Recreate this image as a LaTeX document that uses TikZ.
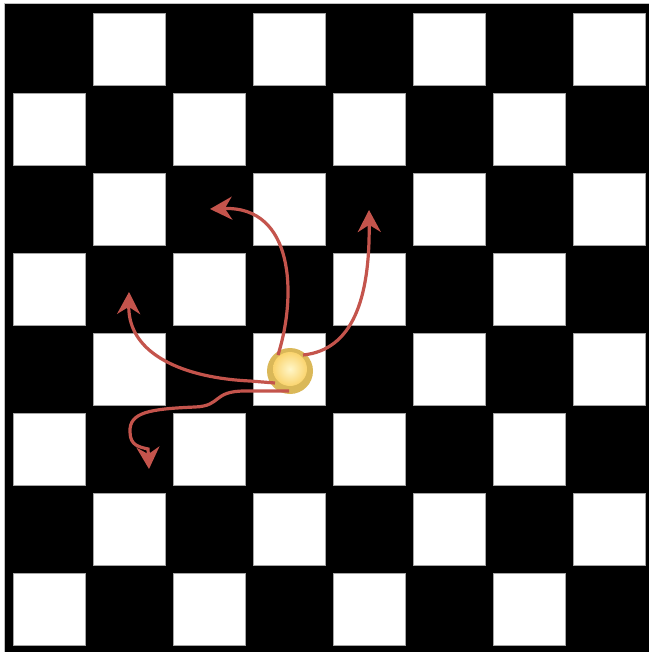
\documentclass[tikz,border=0pt]{standalone}
\usetikzlibrary{arrows.meta}
\definecolor{arrowred}{RGB}{196,84,76}
\definecolor{ringgold}{RGB}{218,184,88}
\definecolor{ballin}{RGB}{255,246,200}
\definecolor{ballout}{RGB}{250,212,110}
\begin{document}
\begin{tikzpicture}[x=1pt,y=-1pt,
  sq/.style={fill=white,draw=gray!70,line width=0.6pt},
  move/.style={draw=arrowred,line width=3.2pt,-{Stealth[length=22pt,width=23pt]}},
  ring/.style={circle,fill=ringgold,minimum size=46pt,inner sep=0pt}]
\useasboundingbox (0,0) rectangle (649,652);
\fill[white] (0,0) rectangle (649,652);
\fill[black] (4,4) rectangle (649,652);
\draw[gray!50,line width=1pt] (4,652) -- (4,4) -- (649,4);
\foreach \i in {0,...,7}{
  \foreach \j in {0,...,7}{
    \pgfmathtruncatemacro{\parity}{mod(\i+\j,2)}
    \ifnum\parity=1
      \draw[sq] ({13+80*\i},{13+80*\j}) rectangle ++(72,72);
    \fi
  }
}
\node[ring] (ball) at (290,371) {};
\shade[inner color=ballin,outer color=ballout] (290,369) circle (17pt);
\coordinate (s1) at (278,355);
\coordinate (s2) at (303,355);
\coordinate (s3) at (275,383);
\coordinate (s4) at (289,391);
\coordinate (e1) at (210,209);
\coordinate (e2) at (369,210);
\coordinate (e3) at (129,292);
\coordinate (e4) at (149,469);
\draw[move] (s1) .. controls (297,295) and (294,206) .. (e1);
\draw[move] (s2) .. controls (352,350) and (370,300) .. (e2);
\draw[move] (s3) -- (250,381) .. controls (185,378) and (128,355) .. (e3);
\draw[move] (s4) -- (245,391) .. controls (212,391) and (222,406) .. (195,407)
  .. controls (150,409) and (129,412) .. (130,432) .. controls (130,446) and (140,447) .. (148,449) -- (e4);
\end{tikzpicture}
\end{document}
